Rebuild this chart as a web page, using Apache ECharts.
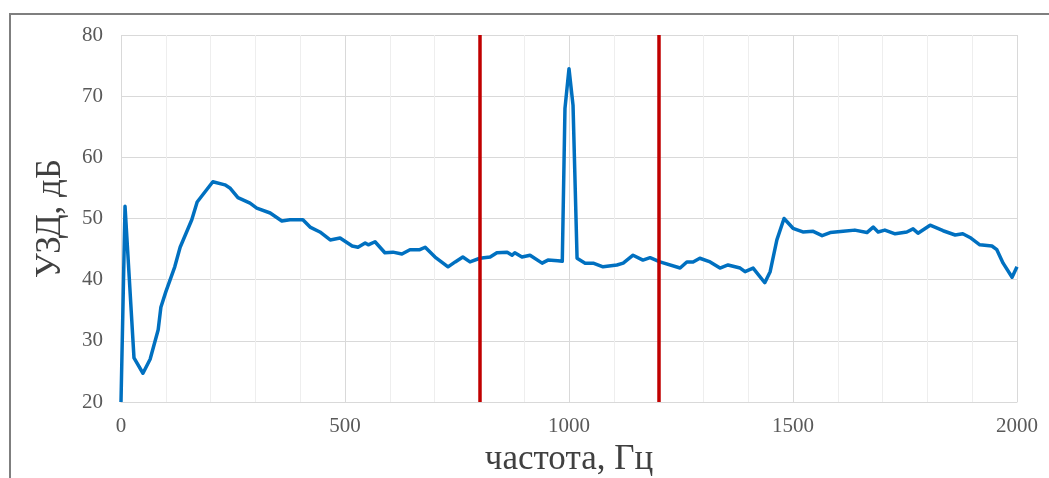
<!DOCTYPE html>
<html>
<head>
<meta charset="utf-8">
<script src="https://cdn.jsdelivr.net/npm/echarts@6/dist/echarts.min.js"></script>
<style>
  html, body { margin: 0; padding: 0; background: #fff; }
  #chart { width: 1049px; height: 478px; }
</style>
</head>
<body>
<div id="chart"></div>
<script>
// частота, Гц
const freq = [
  0, 9, 29, 49, 65, 83, 89, 100, 120, 132, 158, 170, 205, 232, 243, 261, 288, 303, 333, 359,
  377, 406, 422, 444, 467, 489, 516, 529, 545, 552, 567, 589, 607, 627, 645, 667, 679, 701, 730, 746,
  763, 779, 801, 824, 839, 862, 873, 879, 895, 913, 940, 953, 975, 985, 991, 1000, 1009, 1018, 1036, 1054,
  1076, 1107, 1121, 1143, 1165, 1181, 1203, 1248, 1263, 1277, 1292, 1315, 1337, 1355, 1382, 1393, 1411, 1437, 1449, 1464,
  1480, 1500, 1522, 1545, 1565, 1583, 1612, 1638, 1665, 1679, 1690, 1705, 1728, 1754, 1768, 1779, 1806, 1835, 1862, 1879,
  1895, 1917, 1944, 1955, 1969, 1989, 2000
];
// УЗД, дБ
const level = [
  20, 52, 27.2, 24.7, 27, 31.8, 35.5, 38, 42.1, 45.3, 49.8, 52.7, 56.0, 55.5, 55.0, 53.4, 52.5, 51.7, 50.9, 49.6,
  49.8, 49.8, 48.6, 47.8, 46.5, 46.8, 45.5, 45.3, 46.0, 45.7, 46.2, 44.4, 44.5, 44.2, 44.9, 44.9, 45.3, 43.7, 42.1, 42.9,
  43.7, 42.9, 43.5, 43.7, 44.4, 44.5, 44.0, 44.4, 43.7, 44.0, 42.7, 43.2, 43.1, 43.0, 68, 74.5, 68.5, 43.5, 42.7, 42.7,
  42.1, 42.4, 42.7, 44.0, 43.2, 43.6, 42.9, 41.9, 42.9, 42.9, 43.5, 42.9, 41.9, 42.4, 41.9, 41.3, 41.9, 39.5, 41.3, 46.5,
  50.0, 48.4, 47.8, 47.9, 47.2, 47.7, 47.9, 48.1, 47.7, 48.6, 47.8, 48.1, 47.5, 47.8, 48.3, 47.6, 48.9, 48.0, 47.3, 47.5,
  46.9, 45.7, 45.5, 44.9, 42.7, 40.4, 42.1
];
// границы полосы (красные линии)
const bounds = [800, 1200];

const chart = echarts.init(document.getElementById('chart'));

const font = '"Liberation Serif", "DejaVu Serif", serif';

chart.setOption({
  backgroundColor: '#fff',
  animation: false,
  // рамка области диаграммы (обрезана слева и сверху)
  graphic: [
    {
      type: 'polyline',
      silent: true,
      shape: { points: [[10, 478], [10, 14], [1049, 14]] },
      style: { stroke: '#7f7f7f', lineWidth: 2, fill: null }
    }
  ],
  grid: {
    left: 121,
    right: 32,
    top: 35,
    bottom: 76,
    outerBoundsMode: 'none'
  },
  xAxis: {
    type: 'value',
    min: 0,
    max: 2000,
    interval: 500,
    name: 'частота, Гц',
    nameLocation: 'middle',
    nameGap: 38,
    nameTextStyle: { fontFamily: font, fontSize: 35, color: '#404040' },
    axisLine: { show: true, lineStyle: { color: '#d9d9d9', width: 1 } },
    axisTick: { show: false },
    axisLabel: {
      fontFamily: font, fontSize: 21, color: '#595959', margin: 14,
      formatter: v => String(v)
    },
    splitLine: { show: true, lineStyle: { color: '#d9d9d9', width: 1 } },
    minorTick: { show: false, splitNumber: 5 },
    minorSplitLine: { show: true, lineStyle: { color: '#eeeeee', width: 1 } }
  },
  yAxis: {
    type: 'value',
    min: 20,
    max: 80,
    interval: 10,
    name: 'УЗД, дБ',
    nameLocation: 'middle',
    nameGap: 53,
    nameTextStyle: { fontFamily: font, fontSize: 35, color: '#404040' },
    axisLine: { show: false },
    axisTick: { show: false },
    axisLabel: { fontFamily: font, fontSize: 21, color: '#595959', margin: 18 },
    splitLine: { show: true, lineStyle: { color: '#d9d9d9', width: 1 } }
  },
  series: [
    {
      type: 'line',
      data: freq.map((f, i) => [f, level[i]]),
      symbol: 'none',
      lineStyle: { color: '#0070c0', width: 3.5, join: 'round' },
      z: 3,
      markLine: {
        silent: true,
        symbol: 'none',
        label: { show: false },
        lineStyle: { color: '#c00000', width: 3.5, type: 'solid' },
        data: bounds.map(b => ({ xAxis: b }))
      }
    }
  ]
});
</script>
</body>
</html>
